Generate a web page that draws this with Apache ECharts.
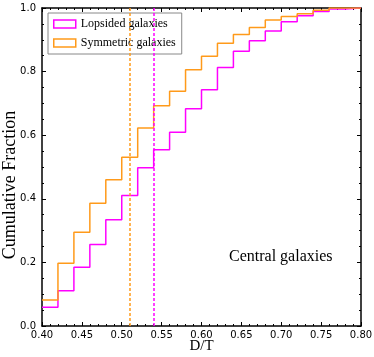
<!DOCTYPE html>
<html>
<head>
<meta charset="utf-8">
<script src="https://cdn.jsdelivr.net/npm/echarts@6/dist/echarts.min.js"></script>
<style>
  html, body { margin: 0; padding: 0; background: #fff; }
  #main { width: 374px; height: 357px; }
</style>
</head>
<body>
<div id="main"></div>
<script>
// bin edges (D/T), width 0.02
var binStarts = [0.40, 0.42, 0.44, 0.46, 0.48, 0.50, 0.52, 0.54, 0.56, 0.58,
                 0.60, 0.62, 0.64, 0.66, 0.68, 0.70, 0.72, 0.74, 0.76, 0.78];
var binEnd = 0.80;
// cumulative fractions per bin
var lopsided  = [0.059, 0.111, 0.185, 0.256, 0.334, 0.410, 0.498, 0.554, 0.609, 0.683,
                 0.743, 0.813, 0.864, 0.897, 0.928, 0.957, 0.976, 0.989, 0.997, 1.000];
var symmetric = [0.082, 0.197, 0.295, 0.386, 0.460, 0.531, 0.623, 0.693, 0.738, 0.806,
                 0.848, 0.889, 0.917, 0.939, 0.962, 0.973, 0.982, 0.993, 1.000, 1.000];
// medians
var lopsidedMedian = 0.54;
var symmetricMedian = 0.51;

var MAGENTA = '#ff00ff';
var ORANGE = '#ff9a1a';

function stepData(vals) {
  var d = binStarts.map(function (x, i) { return [x, vals[i]]; });
  d.push([binEnd, vals[vals.length - 1]]);
  return d;
}

document.addEventListener('DOMContentLoaded', function () {
  var myChart = echarts.init(document.getElementById('main'));

  var tickFont = { fontFamily: 'DejaVu Sans', fontSize: 10, color: '#000' };
  var axisCommon = {
    type: 'value',
    axisLine: { show: true, onZero: false, lineStyle: { color: '#000', width: 1.5 } },
    axisTick: { show: true, inside: true, length: 4, lineStyle: { color: '#000', width: 1 } },
    minorTick: { show: true, splitNumber: 5, length: 2, lineStyle: { color: '#000', width: 1 } },
    splitLine: { show: false }
  };

  var option = {
    animation: false,
    grid: { left: 42, right: 13, top: 8, bottom: 31, containLabel: false, outerBoundsMode: 'none' },
    xAxis: [
      Object.assign({}, axisCommon, {
        min: 0.4, max: 0.8, interval: 0.05, position: 'bottom',
        axisLabel: Object.assign({ margin: 4, formatter: function (v) { return v.toFixed(2); } }, tickFont),
        name: 'D/T', nameLocation: 'middle', nameGap: 13, nameMoveOverlap: false,
        nameTextStyle: { fontFamily: 'Liberation Serif', fontSize: 15, color: '#000' }
      }),
      Object.assign({}, axisCommon, {
        min: 0.4, max: 0.8, interval: 0.05, position: 'top',
        axisLabel: { show: false }
      })
    ],
    yAxis: [
      Object.assign({}, axisCommon, {
        min: 0, max: 1, interval: 0.2, position: 'left',
        minorTick: { show: true, splitNumber: 4, length: 2, lineStyle: { color: '#000', width: 1 } },
        axisLabel: Object.assign({ margin: 6, formatter: function (v) { return v.toFixed(1); } }, tickFont)
      }),
      Object.assign({}, axisCommon, {
        min: 0, max: 1, interval: 0.2, position: 'right',
        minorTick: { show: true, splitNumber: 4, length: 2, lineStyle: { color: '#000', width: 1 } },
        axisLabel: { show: false }
      })
    ],
    legend: {
      left: 48, top: 13,
      orient: 'vertical',
      itemWidth: 22, itemHeight: 8, itemGap: 7,
      padding: [5, 6, 5, 5],
      borderColor: '#888', borderWidth: 1,
      textStyle: { fontFamily: 'Liberation Serif', fontSize: 12, color: '#000' },
      data: [
        { name: 'Lopsided galaxies', icon: 'rect',
          itemStyle: { color: '#fff', borderColor: MAGENTA, borderWidth: 1.5 },
          lineStyle: { width: 0, opacity: 0 } },
        { name: 'Symmetric galaxies', icon: 'rect',
          itemStyle: { color: '#fff', borderColor: ORANGE, borderWidth: 1.5 },
          lineStyle: { width: 0, opacity: 0 } }
      ]
    },
    graphic: [
      {
        type: 'text', left: 229, top: 249,
        style: { text: 'Central galaxies', font: '16px "Liberation Serif"', fill: '#000' }
      },
      {
        type: 'text', x: 10, y: 185, rotation: Math.PI / 2,
        style: { text: 'Cumulative Fraction', font: '18px "Liberation Serif"', fill: '#000',
                 align: 'center', verticalAlign: 'middle' }
      }
    ],
    series: [
      {
        name: 'Lopsided galaxies', type: 'line', step: 'end',
        data: stepData(lopsided), showSymbol: false, symbol: 'none',
        itemStyle: { color: MAGENTA },
        lineStyle: { color: MAGENTA, width: 1.5 },
        markLine: {
          silent: true, symbol: 'none', label: { show: false },
          lineStyle: { color: MAGENTA, type: [3, 2], width: 1.5 },
          data: [{ xAxis: lopsidedMedian }]
        }
      },
      {
        name: 'Symmetric galaxies', type: 'line', step: 'end',
        data: stepData(symmetric), showSymbol: false, symbol: 'none',
        itemStyle: { color: ORANGE },
        lineStyle: { color: ORANGE, width: 1.5 },
        markLine: {
          silent: true, symbol: 'none', label: { show: false },
          lineStyle: { color: ORANGE, type: [3, 2], width: 1.5 },
          data: [{ xAxis: symmetricMedian }]
        }
      }
    ]
  };
  myChart.setOption(option);
});
</script>
</body>
</html>
